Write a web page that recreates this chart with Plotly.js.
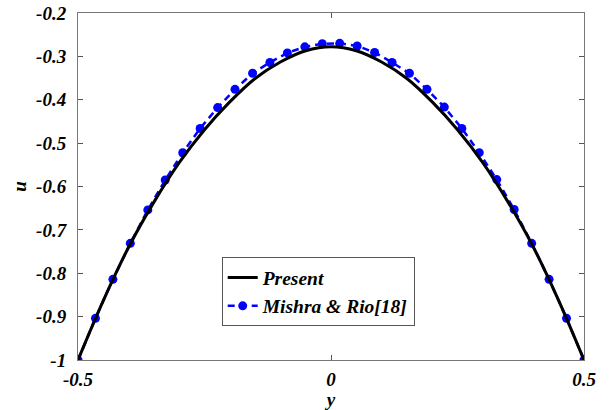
<!DOCTYPE html>
<html>
<head>
<meta charset="utf-8">
<script src="https://cdn.plot.ly/plotly-3.0.1.min.js"></script>
<style>
  html, body { margin: 0; padding: 0; background: #fff; }
  #chart { width: 610px; height: 410px; }
</style>
</head>
<body>
<div id="chart"></div>
<script>
// Velocity profile u(y) across the channel
const presentY = [-0.5, -0.45, -0.4, -0.35, -0.3, -0.25, -0.2, -0.15, -0.1, -0.05, 0,
                  0.05, 0.1, 0.15, 0.2, 0.25, 0.3, 0.35, 0.4, 0.45, 0.5];
const presentU = [-1, -0.863, -0.740, -0.636, -0.545, -0.469, -0.405, -0.351, -0.313, -0.287, -0.278,
                  -0.287, -0.313, -0.351, -0.405, -0.469, -0.545, -0.636, -0.740, -0.863, -1];

// Reference solution (Mishra & Rio)
const refY = [-0.5, -0.4655, -0.431, -0.3966, -0.362, -0.3276, -0.293, -0.2586, -0.224, -0.1897,
              -0.155, -0.1207, -0.0862, -0.0517, -0.0172, 0.0172, 0.0517, 0.0862, 0.1207, 0.155,
              0.1897, 0.224, 0.2586, 0.293, 0.3276, 0.362, 0.3966, 0.431, 0.4655, 0.5];
const refU = [-1, -0.904, -0.814, -0.731, -0.654, -0.585, -0.522, -0.466, -0.418, -0.376,
              -0.339, -0.314, -0.292, -0.278, -0.271, -0.270, -0.276, -0.291, -0.314, -0.339,
              -0.376, -0.417, -0.466, -0.522, -0.584, -0.653, -0.731, -0.814, -0.904, -1];

const xTicks = [-0.5, 0, 0.5];
const xTickText = ['-0.5', '0', '0.5'];
const yTicks = [-1, -0.9, -0.8, -0.7, -0.6, -0.5, -0.4, -0.3, -0.2];
const yTickText = ['-1', '-0.9', '-0.8', '-0.7', '-0.6', '-0.5', '-0.4', '-0.3', '-0.2'];

const serif = 'Liberation Serif';
const boldItalic = (size) => ({ family: serif, size: size, color: '#000', weight: 'bold', style: 'italic' });

const traces = [
  {
    x: refY, y: refU, type: 'scatter', mode: 'lines+markers',
    name: 'Mishra & Rio[18]',
    line: { color: '#0000ff', width: 2.5, dash: '7px,5px' },
    marker: { color: '#0000ff', size: 9, symbol: 'circle' }
  },
  {
    x: presentY, y: presentU, type: 'scatter', mode: 'lines',
    name: 'Present',
    line: { color: '#000000', width: 3, shape: 'spline', smoothing: 1 }
  }
];

const layout = {
  width: 610, height: 410,
  margin: { l: 78, r: 26, t: 13, b: 50 },
  paper_bgcolor: '#fff', plot_bgcolor: '#fff',
  font: { family: serif },
  showlegend: true,
  legend: {
    x: 0.284, y: 0.296, xanchor: 'left', yanchor: 'top',
    bgcolor: '#fff', bordercolor: '#555', borderwidth: 1,
    font: boldItalic(19.5), traceorder: 'reversed',
    tracegroupgap: 0
  },
  xaxis: {
    range: [-0.5, 0.5], tickvals: xTicks, ticktext: xTickText,
    ticks: 'inside', ticklen: 5, tickcolor: '#555',
    showline: true, linecolor: '#777', linewidth: 1, mirror: 'ticks',
    showgrid: false, zeroline: false,
    tickfont: boldItalic(19), ticklabelstandoff: 2,
    title: { text: 'y', font: boldItalic(19), standoff: 0 }
  },
  yaxis: {
    range: [-1, -0.2], tickvals: yTicks, ticktext: yTickText,
    ticks: 'inside', ticklen: 5, tickcolor: '#555',
    showline: true, linecolor: '#777', linewidth: 1, mirror: 'ticks',
    showgrid: false, zeroline: false,
    tickfont: boldItalic(19), ticklabelstandoff: 7,
    title: { text: 'u', font: boldItalic(19), standoff: 4 }
  }
};

Plotly.newPlot('chart', traces, layout, { displayModeBar: false, staticPlot: true });
</script>
</body>
</html>
